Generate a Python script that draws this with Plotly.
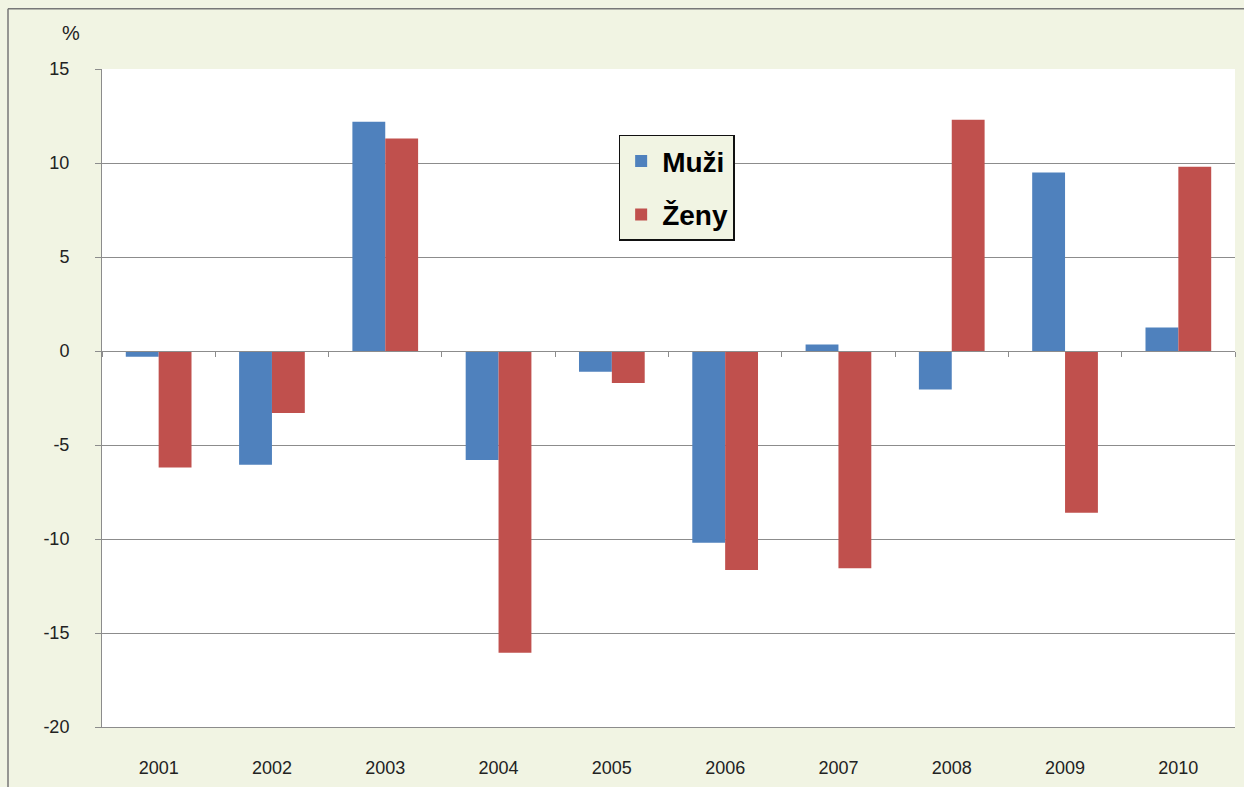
import plotly.graph_objects as go

# Data for the chart
years = ["2001", "2002", "2003", "2004", "2005", "2006", "2007", "2008", "2009", "2010"]
muzi = [-0.3, -6.05, 12.2, -5.8, -1.1, -10.2, 0.35, -2.05, 9.5, 1.25]
zeny = [-6.2, -3.3, 11.3, -16.05, -1.7, -11.65, -11.55, 12.3, -8.6, 9.8]
y_ticks = [-20, -15, -10, -5, 0, 5, 10, 15]

bg = "#F1F4E3"
grid = "#8C8C8C"

fig = go.Figure()

fig.add_trace(go.Bar(name="Muži", x=years, y=muzi, marker_color="#4F81BD",
                     marker_line_width=0, legendgroup="m"))
fig.add_trace(go.Bar(name="Ženy", x=years, y=zeny, marker_color="#C0504D",
                     marker_line_width=0, legendgroup="z"))

# invisible helper trace so the zero-crossing axis with category ticks is drawn
fig.add_trace(go.Scatter(x=[0], y=[0], xaxis="x2", mode="markers",
                         marker_opacity=0, showlegend=False, hoverinfo="skip"))

plot_top, plot_bot = 69, 735
y_min, y_max = -20, 15

fig.update_layout(
    width=1244, height=787,
    paper_bgcolor=bg, plot_bgcolor="white",
    margin=dict(l=102, r=9, t=plot_top, b=787 - plot_bot),
    barmode="group", bargap=0.42, bargroupgap=0,
    font=dict(family="Liberation Sans, Arial, sans-serif", size=18, color="#222222"),
    legend=dict(x=0.456, y=0.9, xanchor="left", yanchor="top",
                bgcolor=bg, bordercolor="#111111", borderwidth=1.5,
                font=dict(size=28, color="black", family="Liberation Sans, Arial",
                          weight="bold"),
                itemwidth=32, traceorder="grouped", tracegroupgap=14),
    xaxis=dict(type="category", showgrid=False, ticks="", showline=True,
               linecolor=grid, linewidth=1, ticklabelstandoff=24),
    xaxis2=dict(overlaying="x", anchor="free", position=(0 - y_min) / (y_max - y_min),
                range=[-0.5, 9.5], tickvals=[i + 0.5 for i in range(-1, 10)],
                ticks="outside", ticklen=5, tickcolor=grid, showticklabels=False,
                showline=True, linecolor=grid, linewidth=1, showgrid=False,
                zeroline=False, fixedrange=True),
    yaxis=dict(range=[y_min, y_max], tickvals=y_ticks, ticktext=[str(v) for v in y_ticks],
               showgrid=True, gridcolor=grid,
               gridwidth=1, zeroline=False, showline=True, linecolor=grid,
               ticks="outside", ticklen=6, tickcolor=grid, ticklabelstandoff=22),
    annotations=[dict(text="%", xref="paper", yref="paper",
                      x=(71 - 102) / 1133, y=(plot_bot - 33) / (plot_bot - plot_top),
                      xanchor="center", yanchor="middle",
                      showarrow=False, font=dict(size=20, color="#222222"))],
    shapes=[
        dict(type="line", xref="paper", yref="paper",
             x0=(8 - 102) / 1133, x1=1.05,
             y0=(plot_bot - 8) / (plot_bot - plot_top), y1=(plot_bot - 8) / (plot_bot - plot_top),
             line=dict(color="#777777", width=1.5)),
        dict(type="line", xref="paper", yref="paper",
             x0=(8 - 102) / 1133, x1=(8 - 102) / 1133,
             y0=(plot_bot - 8) / (plot_bot - plot_top), y1=-0.2,
             line=dict(color="#777777", width=1.5)),
    ],
)

fig.write_html("out.html", config={"displayModeBar": False},
               post_script="document.body.style.margin='0';document.body.style.overflow='hidden';")
